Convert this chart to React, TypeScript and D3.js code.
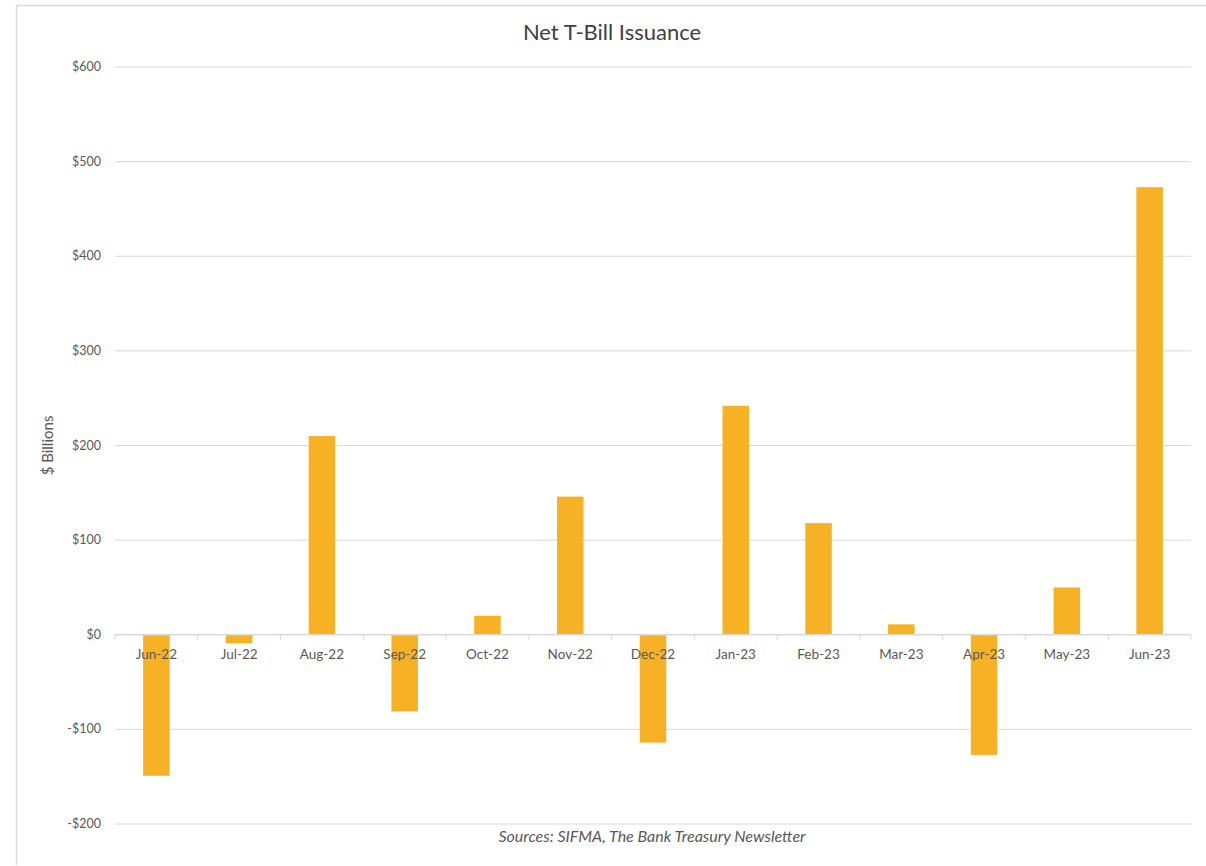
import React from "react";
import * as d3 from "d3";

const months = [
  "Jun-22", "Jul-22", "Aug-22", "Sep-22", "Oct-22", "Nov-22", "Dec-22",
  "Jan-23", "Feb-23", "Mar-23", "Apr-23", "May-23", "Jun-23",
];
const issuance = [-149, -9, 210, -81, 20, 146, -114, 242, 118, 11, -127, 50, 473];
const yTicks = [-200, -100, 0, 100, 200, 300, 400, 500, 600];

const W = 1206;
const H = 866;
const left = 115;
const right = 1191;
const top = 67;
const bottom = 824;
const font = "Lato, 'Open Sans', sans-serif";

export default function App() {
  const x = d3.scaleBand<string>().domain(months).range([left, right]).paddingInner(0.68).paddingOuter(0.34);
  const band = d3.scaleBand<string>().domain(months).range([left, right]);
  const y = d3.scaleLinear().domain([-200, 600]).range([bottom, top]);
  const fmt = (v: number) => (v < 0 ? `-$${Math.abs(v)}` : `$${v}`);
  const y0 = y(0);

  return (
    <svg width={W} height={H} style={{ position: "absolute", left: 0, top: 0, background: "#fff" }}>
      {/* frame */}
      <line x1={16.5} y1={5} x2={16.5} y2={865} stroke="#d9d9d9" strokeWidth={1.5} />
      <line x1={16} y1={5.5} x2={W} y2={5.5} stroke="#d9d9d9" strokeWidth={1.5} />

      <text x={612} y={40} textAnchor="middle" fontFamily={font} fontSize={22} fill="#404040">
        Net T-Bill Issuance
      </text>

      {/* gridlines and y labels */}
      {yTicks.map((t) => (
        <g key={t}>
          {t !== 0 && (
            <line x1={left} x2={right} y1={y(t)} y2={y(t)} stroke="#d9d9d9" strokeWidth={1} />
          )}
          <text x={101} y={y(t) + 4} textAnchor="end" fontFamily={font} fontSize={12.5} fill="#595959">
            {fmt(t)}
          </text>
        </g>
      ))}

      <text
        transform={`translate(53, ${(top + bottom) / 2}) rotate(-90)`}
        textAnchor="middle"
        fontFamily={font}
        fontSize={15}
        fill="#595959"
      >
        $ Billions
      </text>

      {/* bars */}
      {months.map((m, i) => {
        const v = issuance[i];
        return (
          <rect
            key={m}
            x={x(m)}
            width={x.bandwidth()}
            y={Math.min(y(v), y0)}
            height={Math.abs(y(v) - y0)}
            fill="#F7B125"
          />
        );
      })}

      {/* zero axis with tick marks */}
      <line x1={left} x2={right} y1={y0} y2={y0} stroke="#d9d9d9" strokeWidth={1.5} />
      {months.concat(["end"]).map((m, i) => {
        const xx = left + i * band.step();
        return <line key={i} x1={xx} x2={xx} y1={y0} y2={y0 + 5} stroke="#d9d9d9" strokeWidth={1} />;
      })}
      {months.map((m) => (
        <text
          key={m}
          x={(band(m) as number) + band.bandwidth() / 2}
          y={y0 + 24}
          textAnchor="middle"
          fontFamily={font}
          fontSize={13.5}
          fill="#595959"
        >
          {m}
        </text>
      ))}

      <text x={652} y={842} textAnchor="middle" fontFamily={font} fontStyle="italic" fontSize={16} fill="#595959">
        Sources: SIFMA, The Bank Treasury Newsletter
      </text>
    </svg>
  );
}
